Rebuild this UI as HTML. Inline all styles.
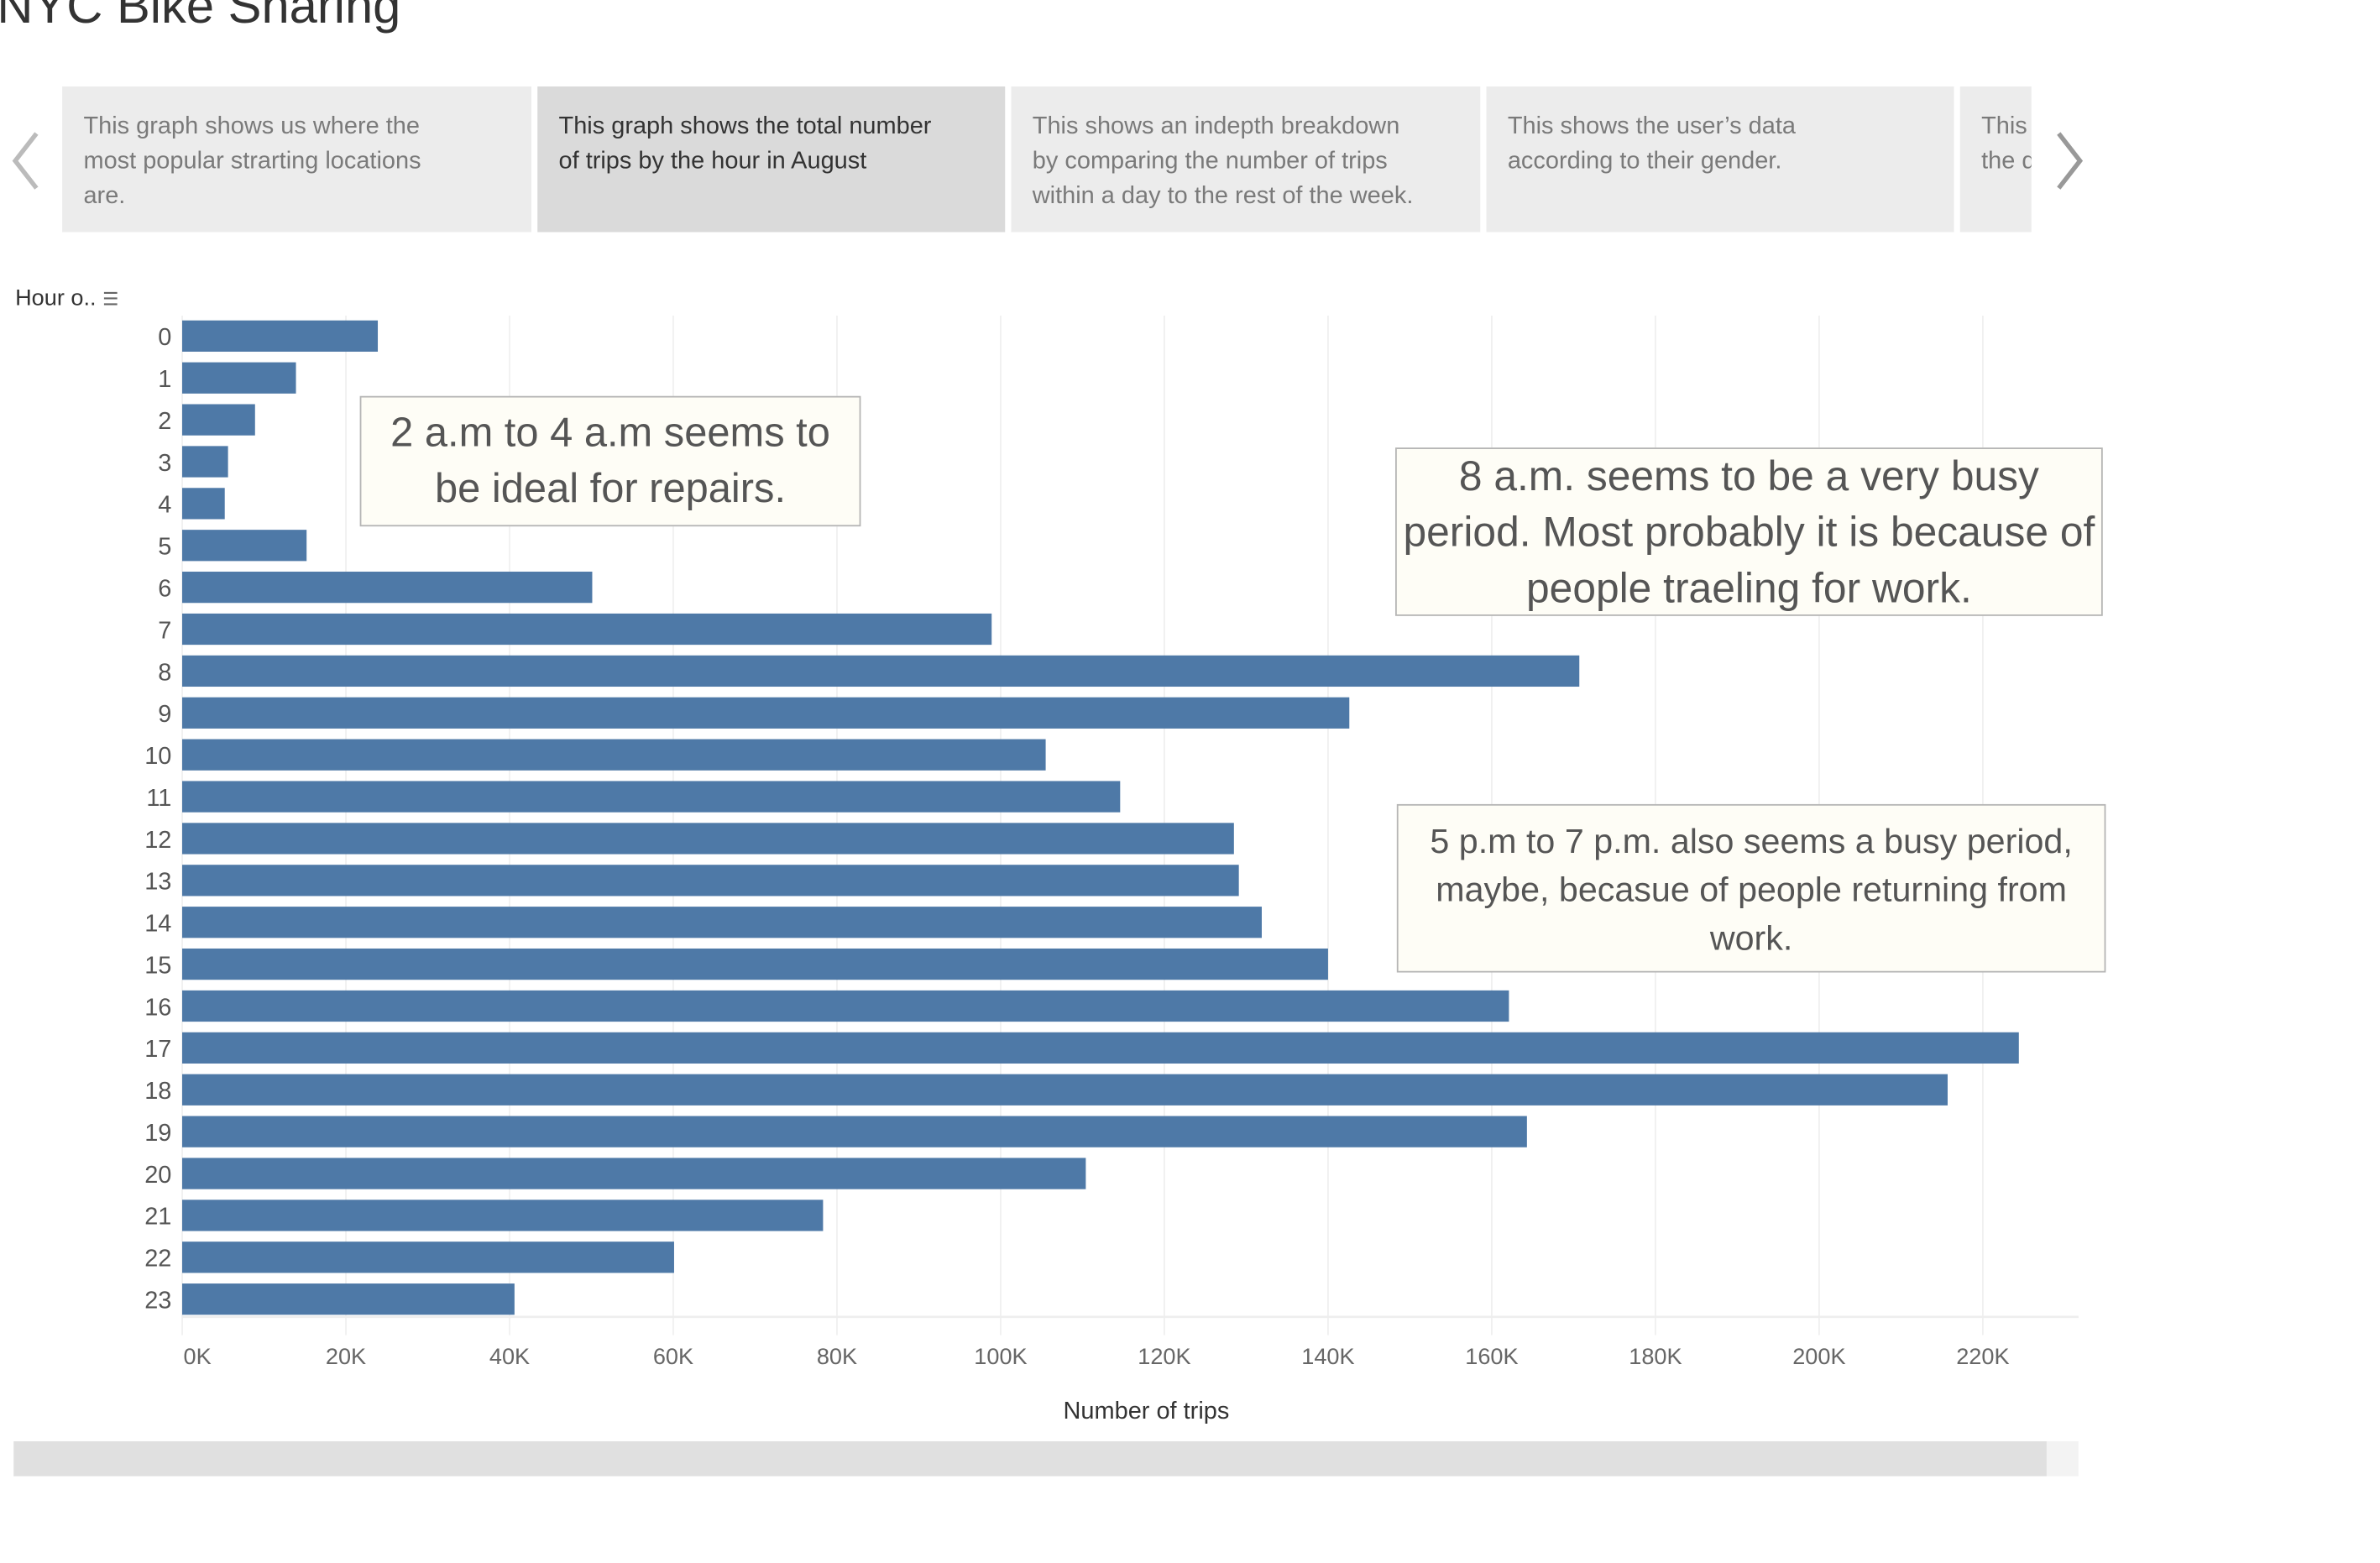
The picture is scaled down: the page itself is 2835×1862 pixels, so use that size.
<!DOCTYPE html>
<html><head><meta charset="utf-8"><style>
html,body{margin:0;padding:0;background:#fff;overflow:hidden;width:2835px;height:1852px}
#wrap{position:absolute;left:0;top:0;width:1580px;height:1030px;transform-origin:0 0;transform:scale(1.8085,1.8074);font-family:"Liberation Sans",sans-serif}
.card{position:absolute;top:57px;height:96px;background:#ececec;box-sizing:border-box;padding:15px 8px 0 14px;font-size:16px;line-height:23px;color:#7a7a7a;overflow:hidden;white-space:nowrap}
.note{position:absolute;background:#fefdf6;border:1px solid #b5b5b5;box-sizing:border-box;color:#555;text-align:center;display:flex;align-items:center;justify-content:center;white-space:nowrap}
</style></head><body>
<div id="wrap">
<div style="position:absolute;left:-2px;top:-15px;font-size:33px;color:#333">NYC Bike Sharing</div>
<svg style="position:absolute;left:6px;top:86px" width="22" height="40"><polyline points="18,2 4,20 18,38" fill="none" stroke="#bbb" stroke-width="3"/></svg>
<div class="card" style="left:41px;width:309px">This graph shows us where the<br>most popular strarting locations<br>are.</div>
<div class="card" style="left:354px;width:308px;background:#dadada;color:#333">This graph shows the total number<br>of trips by the hour in August</div>
<div class="card" style="left:666px;width:309px">This shows an indepth breakdown<br>by comparing the number of trips<br>within a day to the rest of the week.</div>
<div class="card" style="left:979px;width:308px">This shows the user’s data<br>according to their gender.</div>
<div class="card" style="left:1291px;width:47px">This<br>the data</div>
<svg style="position:absolute;left:1352px;top:86px" width="22" height="40"><polyline points="4,2 18,20 4,38" fill="none" stroke="#999" stroke-width="3"/></svg>
<div style="position:absolute;left:10px;top:188px;font-size:15px;color:#333">Hour o.. <span style="font-size:12px;color:#666">&#9776;</span></div>
<svg id="chart" style="position:absolute;left:0;top:0" width="1552" height="1014"></svg>
<div class="note" style="left:237px;top:261px;width:330px;height:86px;font-size:27px;line-height:37px">2 a.m to 4 a.m seems to<br>be ideal for repairs.</div>
<div class="note" style="left:919px;top:295px;width:466px;height:111px;font-size:27.5px;line-height:37px">8 a.m. seems to be a very busy<br>period. Most probably it is because of<br>people traeling for work.</div>
<div class="note" style="left:920px;top:530px;width:467px;height:111px;font-size:22.8px;line-height:32px">5 p.m to 7 p.m. also seems a busy period,<br>maybe, becasue of people returning from<br>work.</div>
<div style="position:absolute;left:655px;width:200px;text-align:center;top:922px;font-size:16px;color:#333">Number of trips</div>
<div style="position:absolute;left:9px;top:950px;width:1360px;height:23px;background:#f3f3f3"></div>
<div style="position:absolute;left:9px;top:950px;width:1339px;height:23px;background:#e0e0e0"></div>
</div>
<script>
const hours = ["0","1","2","3","4","5","6","7","8","9","10","11","12","13","14","15","16","17","18","19","20","21","22","23"];
const trips = [23900,13900,8900,5600,5200,15200,50100,98900,170700,142600,105500,114600,128500,129100,131900,140000,162100,224400,215700,164300,110400,78300,60100,40600];
const xTicks = [0,20000,40000,60000,80000,100000,120000,140000,160000,180000,200000,220000];
const xTickLabels = ["0K","20K","40K","60K","80K","100K","120K","140K","160K","180K","200K","220K"];

const NS="http://www.w3.org/2000/svg";
const svg=document.getElementById('chart');
const x0=120, pxPer=1186/220000;
const xs=v=>x0+v*pxPer;
const ys=i=>221.5+i*27.6;
function mk(t,a){const e=document.createElementNS(NS,t);for(const k in a)e.setAttribute(k,a[k]);svg.appendChild(e);return e;}
xTicks.forEach((t,i)=>{
  const g=mk('line',{x1:xs(t),x2:xs(t),y1:208,y2:880,stroke:'#f0f0f0','stroke-width':1});
  
  
  const l=mk('text',{x:xs(t)+(i==0?10:0),y:899,'text-anchor':'middle','font-size':15,fill:'#666','font-family':'Liberation Sans, sans-serif'});
  l.textContent=xTickLabels[i];
  
  
});
const ax=mk('line',{x1:120,x2:1369,y1:868,y2:868,stroke:'#eee','stroke-width':1.5});


hours.forEach((h,i)=>{
  const b=mk('rect',{x:x0,y:ys(i)-10.3,width:xs(trips[i])-x0,height:20.6,fill:'#4e79a7'});
  
  
  const t=mk('text',{x:113,y:ys(i)+6,'text-anchor':'end','font-size':16,fill:'#555','font-family':'Liberation Sans, sans-serif'});
  t.textContent=h;
  
  
});
</script>
</body></html>
